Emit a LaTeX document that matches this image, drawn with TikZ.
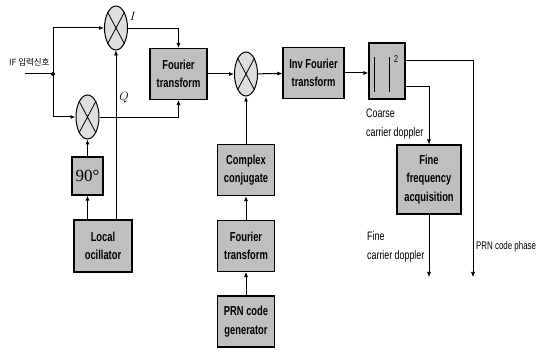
\documentclass[tikz,border=0pt]{standalone}
\usepackage{fontspec}
\setmainfont{Liberation Sans}[FakeStretch=0.72]
\newfontfamily\krfont{Noto Sans CJK KR}
\newfontfamily\degfont{Liberation Serif}
\usetikzlibrary{arrows.meta,positioning,shapes.geometric}

\begin{document}
\begin{tikzpicture}[x=1pt, y=-1pt,
  font=\fontsize{12.3}{19}\selectfont,
  blk/.style={draw, line width=1.1pt, fill=black!25, align=center, inner sep=0pt,
              minimum width=57pt, minimum height=51pt,
              font=\fontsize{13}{18.5}\selectfont\bfseries},
  mix/.style={draw, ellipse, line width=1pt, fill=black!13, inner sep=0pt,
              minimum width=23pt, minimum height=44pt},
  lbl/.style={align=left, inner sep=0pt},
  arr/.style={-{Latex[length=5pt,width=4pt]}, line width=1pt},
  thin/.style={line width=0.6pt}]
\useasboundingbox (0,0) rectangle (540,352);
% mixers
\node[mix] (m1) at (116,28) {};
\node[mix] (m2) at (246,74) {};
\node[mix] (m3) at (87.5,117) {};
\foreach \m in {m1,m2,m3}
  \draw[line width=0.8pt] (\m.north west) -- (\m.south east) (\m.north east) -- (\m.south west);
% blocks
\node[blk] (ft1) at (178.5,74) {Fourier\\transform};
\node[blk, minimum width=61pt] (ift) at (313.5,73) {Inv Fourier\\transform};
\node[blk, minimum width=36pt, minimum height=56pt] (abs) at (387,71) {};
\draw[line width=1pt] ([xshift=-13pt,yshift=14pt]abs.center) -- ([xshift=-13pt,yshift=-21pt]abs.center)
  ([xshift=2pt,yshift=14pt]abs.center) -- ([xshift=2pt,yshift=-21pt]abs.center);
\node[font=\fontsize{10}{10}\selectfont, inner sep=0pt] (sq) at (396,59) {2};
\node[blk] (cc) at (246,170) {Complex\\conjugate};
\node[blk] (ft2) at (246,246) {Fourier\\transform};
\node[blk] (prn) at (246,321.5) {PRN code\\generator};
\node[blk, minimum width=58pt, minimum height=52pt] (lo) at (103,246) {Local\\ocillator};
\node[blk, minimum width=31pt, minimum height=38pt,
      font=\degfont\fontsize{17}{17}\selectfont] (deg) at (87.5,176) {90°};
\node[blk, minimum width=64pt, minimum height=69pt] (ffa) at (429,179.5) {Fine\\frequency\\acquisition};
% input
\coordinate (in) at (25,74);
\coordinate (j) at (53,74);
\node[lbl, anchor=west, font=\krfont\fontsize{8.5}{9}\selectfont] (iflbl) at (9,62) {IF 입력신호};
\draw[line width=1pt] (in) -- (j);
\fill (j) circle (2pt);
\draw[arr] (j) |- (m1.west);
\draw[arr] (j) |- (m3.west);
\node[font=\fontsize{13}{13}\selectfont] (ilbl) at (133,16) {$I$};
\node[font=\fontsize{13}{13}\selectfont] (qlbl) at (124,98) {$Q$};
\draw[arr, thin] (m1.east) -| (ft1.north);
\draw[arr, thin] (m3.east) -| (ft1.south);
\draw[arr] (deg.south |- lo.north) -- (deg.south);
\draw[arr] (deg) -- (m3);
\draw[arr, thin] (m1.south |- lo.north) -- (m1.south);
% correlation
\draw[arr] (ft1) -- (m2);
\draw[arr] (m2) -- (ift);
\draw[arr] (ift.east) -- (ift.east -| abs.west);
\draw[arr] (prn) -- (ft2);
\draw[arr] (ft2) -- (cc);
\draw[arr] (cc) -- (m2);
% outputs
\coordinate (pc) at (473,277);
\coordinate (fc) at (429,277);
\draw[arr, thin] ([yshift=11pt]abs.east) -| (pc);
\draw[arr, thin] ([yshift=-15pt]abs.east) -| (ffa.north);
\draw[arr, thin] (ffa.south) -- (fc);
\node[lbl, anchor=north west] (coarse) at (366,109) {Coarse\\carrier doppler};
\node[lbl, anchor=north west] (fine) at (367,231) {Fine\\carrier doppler};
\node[lbl, anchor=west, font=\fontsize{11}{12}\selectfont] (phase) at (476,247) {PRN code phase};
\end{tikzpicture}
\end{document}
